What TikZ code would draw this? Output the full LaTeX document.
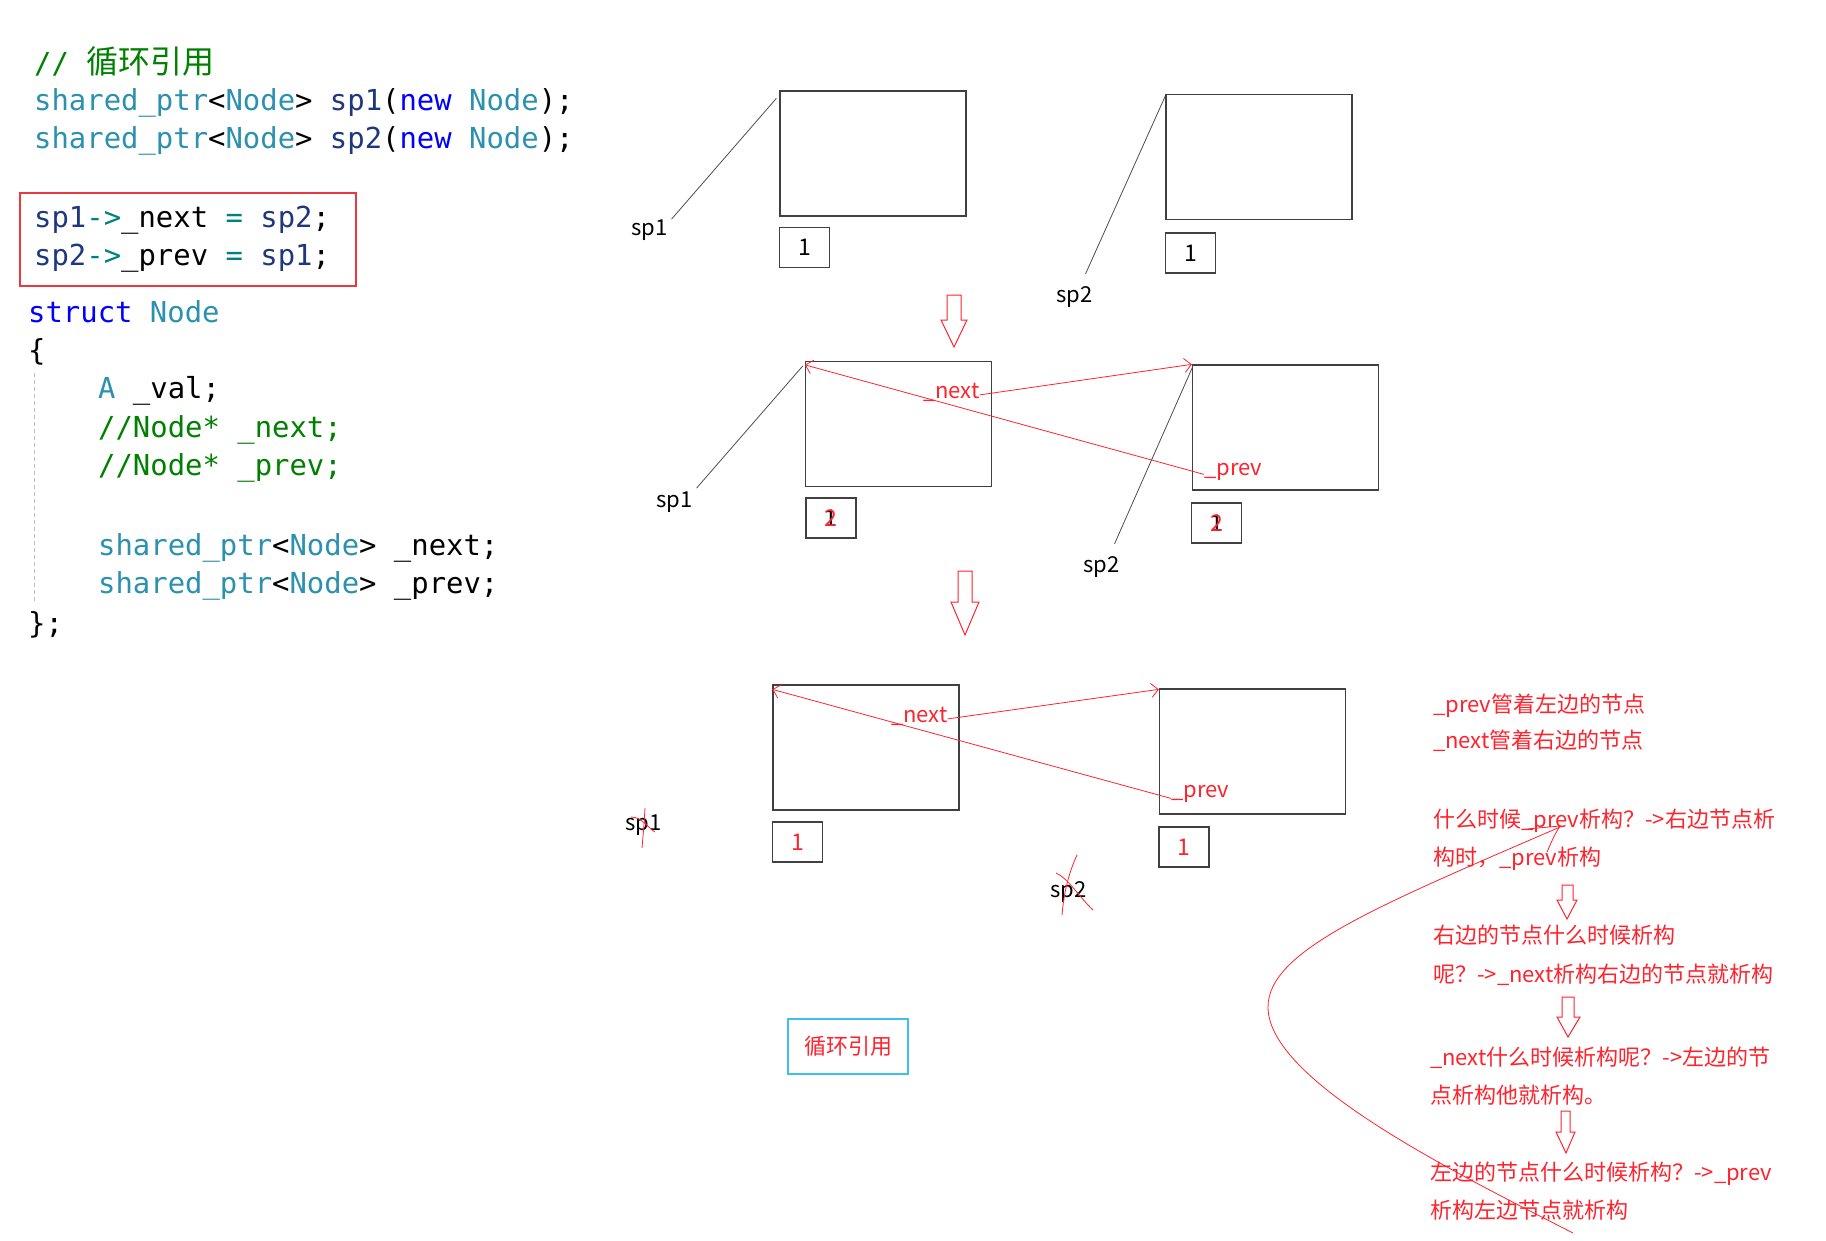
\documentclass[tikz,border=0pt]{standalone}
\usepackage{fontspec}
\setmainfont{Noto Sans CJK SC}
\setmonofont{DejaVu Sans Mono}
\newfontfamily\cjk{Noto Sans CJK SC}
\usetikzlibrary{arrows.meta}
\definecolor{codeteal}{RGB}{43,145,175}
\definecolor{codeblue}{RGB}{0,0,255}
\definecolor{codenavy}{RGB}{31,55,127}
\definecolor{codegreen}{RGB}{0,128,0}
\definecolor{codeop}{RGB}{0,128,128}
\definecolor{penred}{RGB}{255,35,45}
\definecolor{boxred}{RGB}{232,56,64}
\definecolor{boxblue}{RGB}{64,190,240}
\newcommand{\ctype}[1]{\textcolor{codeteal}{#1}}
\newcommand{\ckw}[1]{\textcolor{codeblue}{#1}}
\newcommand{\cvar}[1]{\textcolor{codenavy}{#1}}
\newcommand{\cop}[1]{\textcolor{codeop}{#1}}
\newcommand{\ccmt}[1]{\textcolor{codegreen}{#1}}

\begin{document}
\begin{tikzpicture}[x=1pt, y=-1pt,
  code/.style={anchor=base west, inner sep=0pt, font=\ttfamily\fontsize{28.9}{38}\selectfont},
  objbox/.style={draw=black!75, line width=1.3pt, minimum width=186pt, minimum height=125pt, inner sep=0pt},
  cntbox/.style={draw=black!75, line width=1.3pt, minimum width=50pt, minimum height=40pt, inner sep=0pt, font=\fontsize{23}{26}\selectfont},
  ptrlbl/.style={anchor=base west, inner sep=0pt, font=\fontsize{22}{26}\selectfont},
  ptrline/.style={draw=black!70, line width=0.8pt},
  reflbl/.style={anchor=base west, inner sep=0pt, text=penred, font=\fontsize{22}{26}\selectfont},
  refline/.style={draw=penred, line width=0.8pt, -{Straight Barb[length=7pt,width=14pt]}},
  note/.style={anchor=base west, inner sep=0pt, text=penred, font=\fontsize{22}{26}\selectfont},
  stepshape/.style={draw=penred, line width=1pt, line join=miter},
  pen/.style={draw=penred, line width=0.8pt}]
\useasboundingbox (0,0) rectangle (1826,1240);

\node[code] (c1) at (34,73) {\ccmt{// {\cjk\fontsize{32}{38}\selectfont 循环引用}}};
\node[code] (c2) at (34,110) {\ctype{shared\_ptr}<\ctype{Node}> \cvar{sp1}(\ckw{new} \ctype{Node});};
\node[code] (c3) at (34,148) {\ctype{shared\_ptr}<\ctype{Node}> \cvar{sp2}(\ckw{new} \ctype{Node});};
\node[code] (c4) at (34,227) {\cvar{sp1}\cop{->}\_next \cop{=} \cvar{sp2};};
\node[code] (c5) at (34,265) {\cvar{sp2}\cop{->}\_prev \cop{=} \cvar{sp1};};
\draw[boxred, line width=1.2pt] (20,193) rectangle (356,286);
\node[code] (c6) at (28,322) {\ckw{struct} \ctype{Node}};
\node[code] (c7) at (28,360) {\{};
\node[code] (c8) at (98,398) {\ctype{A} \_val;};
\node[code] (c9) at (98,437) {\ccmt{//Node* \_next;}};
\node[code] (c10) at (98,475) {\ccmt{//Node* \_prev;}};
\node[code] (c11) at (98,555) {\ctype{shared\_ptr}<\ctype{Node}> \_next;};
\node[code] (c12) at (98,593) {\ctype{shared\_ptr}<\ctype{Node}> \_prev;};
\node[code] (c13) at (28,633) {\};};
\draw[black!25, line width=0.8pt, dash pattern=on 4pt off 3pt] (34,373) -- (34,602);

\node[objbox] (n1a) at (873,153.5) {};
\node[cntbox] (k1a) at (804.5,247.5) {1};
\node[objbox] (n2a) at (1259,157) {};
\node[cntbox] (k2a) at (1190.5,253) {1};
\node[ptrlbl] (p1a) at (631,235) {sp1};
\node[ptrlbl] (p2a) at (1056,302) {sp2};
\draw[ptrline] ([shift={(4,0)}]p1a.north east) -- ([shift={(-3,8)}]n1a.north west);
\draw[ptrline] ([shift={(-7,-12)}]p2a.north east) -- ([shift={(0,2)}]n2a.north west);

\draw[stepshape] (947,295) -- (961,295) -- (961,320) -- (967,320) -- (954,347) -- (941,320) -- (947,320) -- cycle;

\node[objbox] (n1b) at (898.5,424) {};
\node[cntbox] (k1b) at (831,518) {\makebox[0pt]{1}\makebox[0pt]{\textcolor{penred}{2}}};
\node[objbox] (n2b) at (1285.5,427.5) {};
\node[cntbox] (k2b) at (1216.5,523) {\makebox[0pt]{1}\makebox[0pt]{\textcolor{penred}{2}}};
\node[ptrlbl] (p1b) at (656,507) {sp1};
\node[ptrlbl] (p2b) at (1083,572) {sp2};
\draw[ptrline] ([shift={(4,-3)}]p1b.north east) -- ([shift={(-2,5)}]n1b.north west);
\draw[ptrline] ([shift={(-5,-12)}]p2b.north east) -- ([shift={(1,2)}]n2b.north west);
\node[reflbl] (nx1) at (923,398) {\_next};
\node[reflbl] (pv1) at (1204,475) {\_prev};
\draw[refline] ([yshift=-3pt]nx1.east) -- (n2b.north west);
\draw[refline] ([yshift=-3pt]pv1.west) -- ([yshift=-4pt]n1b.north west);

\draw[stepshape] (958,571) -- (972,571) -- (972,602) -- (979,602) -- (965,635) -- (951,602) -- (958,602) -- cycle;

\node[objbox] (n1c) at (866,747.5) {};
\node[cntbox] (k1c) at (797.5,842) {\textcolor{penred}{1}};
\node[objbox] (n2c) at (1252.5,751.5) {};
\node[cntbox] (k2c) at (1184,847) {\textcolor{penred}{1}};
\node[ptrlbl] (p1c) at (625,830) {sp1};
\node[ptrlbl] (p2c) at (1050,897) {sp2};
\node[reflbl] (nx2) at (891,722) {\_next};
\node[reflbl] (pv2) at (1171,797) {\_prev};
\draw[refline] ([yshift=-3pt]nx2.east) -- ([yshift=-1pt]n2c.north west);
\draw[refline] ([yshift=-5pt]pv2.west) -- ([yshift=-5pt]n1c.north west);
\draw[pen] (645,808) .. controls (644,825) .. (642,848);
\draw[pen] (631,817) .. controls (642,817) and (648,828) .. (655,832);
\draw[pen] (1077,855) .. controls (1070,870) and (1064,890) .. (1062,915);
\draw[pen] (1056,873) .. controls (1068,878) and (1080,898) .. (1093,910);

\node[draw=boxblue, line width=1.2pt, minimum width=120pt, minimum height=55pt, inner sep=0pt, text=penred, font=\fontsize{22}{24}\selectfont] (title) at (848,1046.5) {循环引用};

\node[note] (t1) at (1433,712) {\_prev管着左边的节点};
\node[note] (t2) at (1433,748) {\_next管着右边的节点};
\node[note] (t3) at (1433,827) {什么时候\_prev析构？->右边节点析};
\node[note] (t4) at (1433,865) {构时，\_prev析构};
\node[note] (t5) at (1433,943) {右边的节点什么时候析构};
\node[note] (t6) at (1433,982) {呢？->\_next析构右边的节点就析构};
\node[note] (t7) at (1430,1065) {\_next什么时候析构呢？->左边的节};
\node[note] (t8) at (1430,1103) {点析构他就析构。};
\node[note] (t9) at (1430,1180) {左边的节点什么时候析构？->\_prev};
\node[note] (t10) at (1430,1218) {析构左边节点就析构};
\draw[stepshape] (1562,885) -- (1573,885) -- (1573,900) -- (1577,900) -- (1567,919) -- (1557,900) -- (1562,900) -- cycle;
\draw[stepshape] (1562,997) -- (1574,997) -- (1574,1017) -- (1580,1017) -- (1568,1037) -- (1557,1017) -- (1562,1017) -- cycle;
\draw[stepshape] (1561,1111) -- (1570,1111) -- (1570,1132) -- (1575,1132) -- (1566,1153) -- (1556,1132) -- (1561,1132) -- cycle;

\draw[pen] (1527,829) -- (1560,826) .. controls (1554,836) .. (1547,852);
\draw[pen] (1560,827) .. controls (1380,905) and (1268,950) .. (1268,1007) .. controls (1268,1080) and (1450,1170) .. (1573,1233);
\end{tikzpicture}
\end{document}
